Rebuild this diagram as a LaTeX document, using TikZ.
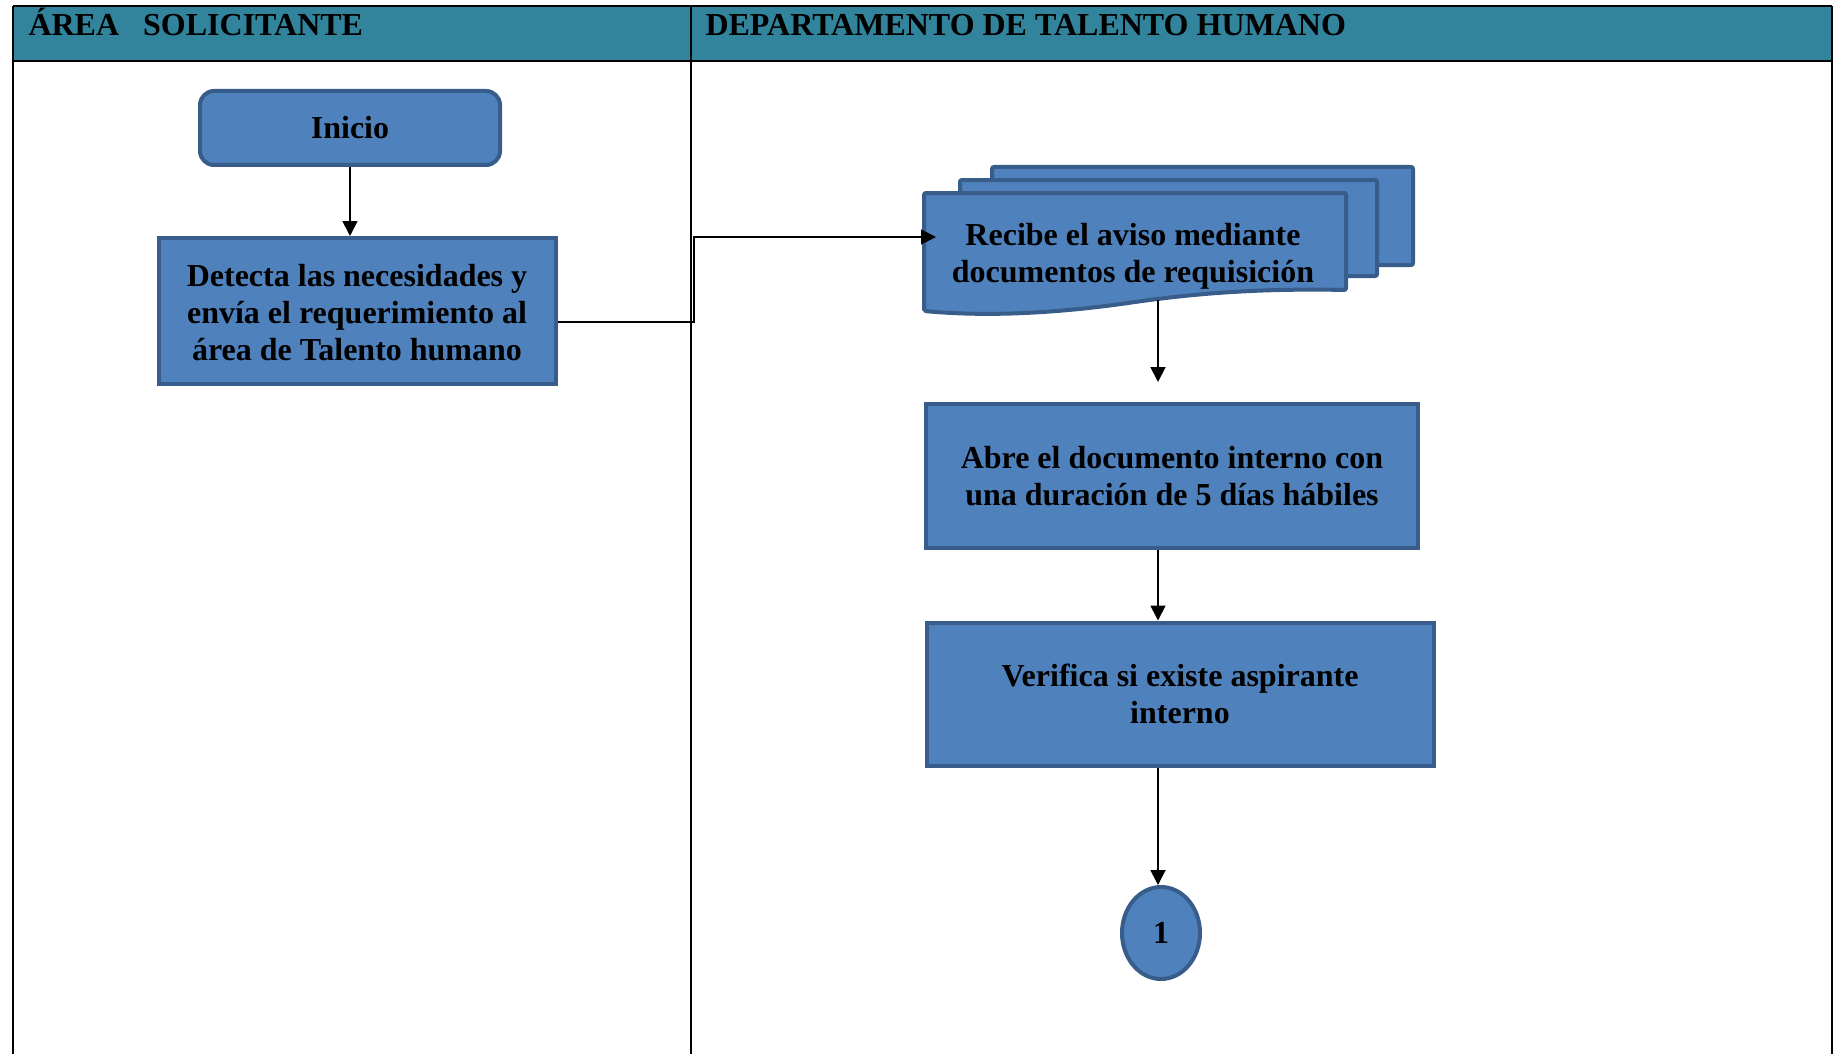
\documentclass[tikz,border=0pt]{standalone}
\usepackage{fontspec}
\setmainfont{Liberation Serif}
\usetikzlibrary{arrows.meta,shapes.geometric}
\definecolor{cabecera}{HTML}{31849B}
\definecolor{relleno}{HTML}{4F81BD}
\definecolor{borde}{HTML}{385D8A}

\begin{document}
\begin{tikzpicture}[x=1pt, y=-1pt,
    every node/.style={font=\fontsize{32}{37}\selectfont\bfseries},
    proceso/.style={draw=borde, fill=relleno, line width=4pt, align=center, inner sep=0pt},
    hoja/.style={draw=borde, fill=relleno, line width=4pt, rounded corners=2pt},
    flecha/.style={-{Triangle[length=15pt,width=15pt]}, line width=1.8pt}]
  \useasboundingbox (0,0) rectangle (1834,1054);
  % header row
  \fill[cabecera] (13,6) rectangle (1832,61);
  \draw[line width=2pt] (13,6) -- (1832,6);
  \draw[line width=2.5pt] (13,61) -- (1832,61);
  % lane borders
  \draw[line width=1.5pt] (13,6) -- (13,1054);
  \draw[line width=1.5pt] (691,6) -- (691,1054);
  \draw[line width=1.5pt] (1832,6) -- (1832,1054);
  \node[anchor=base west] (solicitante) at (25,36) {ÁREA\ \ \ SOLICITANTE};
  \node[anchor=base west] (talento) at (702,36) {DEPARTAMENTO DE TALENTO HUMANO};

  % left lane
  \node[proceso, rounded corners=14pt, minimum width=300pt, minimum height=74pt] (inicio) at (350,128) {Inicio};
  \node[proceso, minimum width=397pt, minimum height=146pt] (detecta) at (357,311)
    {\strut Detecta las necesidades y\\envía el requerimiento al\\área de Talento humano};

  % stacked documents
  \draw[hoja] (992,167) rectangle (1413,265);
  \draw[hoja] (960,180) rectangle (1377,276);
  \draw[hoja] (924,193) -- (1346,193) -- (1346,290)
    .. controls (1250,288) and (1185,295) .. (1135,302)
    .. controls (1060,313) and (990,317) .. (924,311) -- cycle;
  \node[align=center] (recibe) at (1133,256) {Recibe el aviso mediante\\documentos de requisición};

  % right lane
  \node[proceso, minimum width=492pt, minimum height=144pt] (abre) at (1172,476)
    {Abre el documento interno con\\una duración de 5 días hábiles};
  \node[proceso, minimum width=507pt, minimum height=143pt] (verifica) at (1180,694)
    {Verifica si existe aspirante\\interno};
  \node[proceso, ellipse, minimum width=78pt, minimum height=92pt] (uno) at (1161,933) {1};

  % connectors
  \coordinate (quiebre) at (694,237);
  \coordinate (entrada) at (936,237);
  \coordinate (salida) at (1158,300);
  \draw[flecha] (inicio.south) -- (inicio.south |- detecta.north);
  \draw[flecha] ([yshift=-11pt]detecta.east) -| (quiebre) -- (entrada);
  \draw[flecha, shorten >=20pt] (salida) -- (abre.north -| salida);
  \draw[flecha] (abre.south -| salida) -- (verifica.north -| salida);
  \draw[flecha] (verifica.south -| salida) -- (uno.north -| salida);
\end{tikzpicture}
\end{document}
